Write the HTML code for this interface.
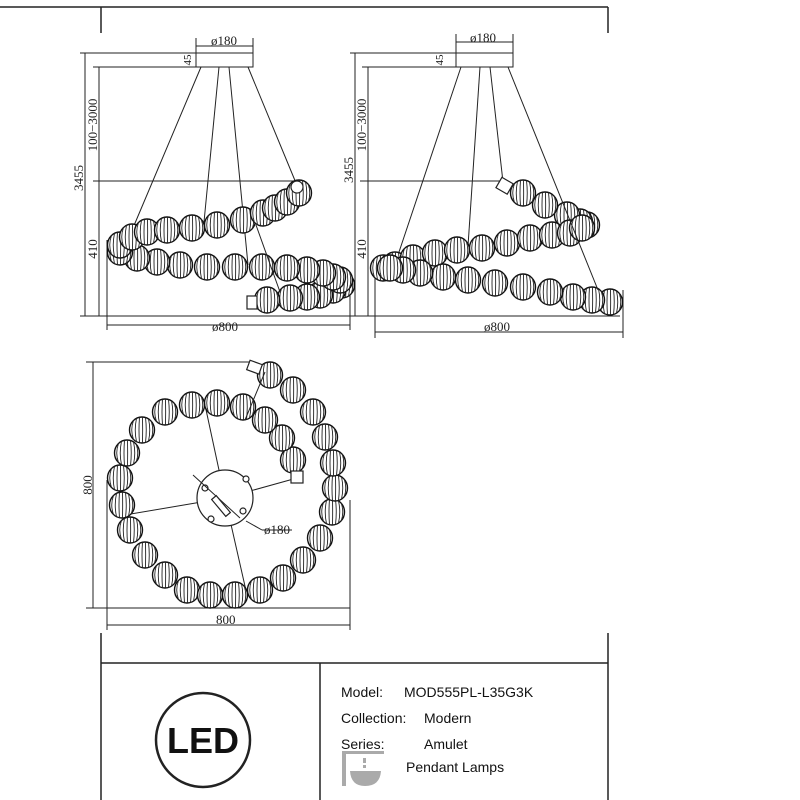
<!DOCTYPE html>
<html><head><meta charset="utf-8"><style>
html,body{margin:0;padding:0;background:#fff;}
svg{display:block}
text{font-family:"Liberation Serif",serif;fill:#222}
.s{font-family:"Liberation Sans",sans-serif;fill:#111}
</style></head><body>
<svg width="800" height="800" viewBox="0 0 800 800" xmlns="http://www.w3.org/2000/svg" xmlns:xlink="http://www.w3.org/1999/xlink">
<defs>
<g id="b">
<ellipse cx="0" cy="0" rx="12.5" ry="13" fill="#fff" stroke="#111" stroke-width="1.4"/>
<g stroke="#222" stroke-width="0.9" fill="none">
<path d="M-8.5 -9.5 Q-12 0 -8.5 9.5"/>
<path d="M-5.5 -11.7 Q-8 0 -5.5 11.7"/>
<path d="M-2.5 -12.7 Q-3.5 0 -2.5 12.7"/>
<path d="M0.5 -13 Q0.8 0 0.5 13"/>
<path d="M3.5 -12.5 Q5 0 3.5 12.5"/>
<path d="M6.5 -11.2 Q9 0 6.5 11.2"/>
<path d="M9.3 -8.7 Q12.2 0 9.3 8.7"/>
</g>
</g>
</defs>
<g stroke="#222" stroke-width="1" fill="none">
<line x1="0" y1="7" x2="608" y2="7" stroke-width="1.5"/>
<line x1="101" y1="7" x2="101" y2="33" stroke-width="1.5"/>
<line x1="608" y1="7" x2="608" y2="33" stroke-width="1.5"/>
<rect x="196" y="53" width="57" height="14"/>
<line x1="196" y1="38" x2="196" y2="53"/><line x1="253" y1="38" x2="253" y2="53"/>
<line x1="196" y1="46" x2="253" y2="46"/>
<line x1="80" y1="53" x2="196" y2="53"/><line x1="93" y1="67" x2="196" y2="67"/>
<line x1="85" y1="53" x2="85" y2="316"/>
<line x1="99" y1="67" x2="99" y2="316"/>
<line x1="93" y1="181" x2="298" y2="181"/>
<line x1="80" y1="316" x2="350" y2="316"/>
<line x1="107" y1="240" x2="107" y2="330"/><line x1="350" y1="280" x2="350" y2="330"/>
<line x1="107" y1="325" x2="350" y2="325"/>
<rect x="456" y="53" width="57" height="14"/>
<line x1="456" y1="34" x2="456" y2="53"/><line x1="513" y1="34" x2="513" y2="53"/>
<line x1="456" y1="42" x2="513" y2="42"/>
<line x1="350" y1="53" x2="456" y2="53"/><line x1="362" y1="67" x2="456" y2="67"/>
<line x1="355" y1="53" x2="355" y2="316"/>
<line x1="368" y1="67" x2="368" y2="316"/>
<line x1="360" y1="181" x2="505" y2="181"/>
<line x1="350" y1="316" x2="620" y2="316"/>
<line x1="375" y1="260" x2="375" y2="338"/><line x1="623" y1="290" x2="623" y2="338"/>
<line x1="375" y1="332" x2="623" y2="332"/>
<line x1="93" y1="362" x2="93" y2="608"/>
<line x1="86" y1="362" x2="255" y2="362"/>
<line x1="86" y1="608" x2="350" y2="608"/>
<line x1="107" y1="480" x2="107" y2="630"/><line x1="350" y1="500" x2="350" y2="630"/>
<line x1="107" y1="625" x2="350" y2="625"/>
<line x1="201" y1="67" x2="130" y2="235"/>
<line x1="219" y1="67" x2="204" y2="222"/>
<line x1="229" y1="67" x2="248" y2="265"/>
<line x1="248" y1="67" x2="296" y2="183"/>
<line x1="461" y1="67" x2="398" y2="255"/>
<line x1="480" y1="67" x2="468" y2="246"/>
<line x1="490" y1="67" x2="503" y2="182"/>
<line x1="225" y1="498" x2="205" y2="405"/>
<line x1="225" y1="498" x2="297" y2="478"/>
<line x1="225" y1="498" x2="125" y2="515"/>
<line x1="225" y1="498" x2="247" y2="595"/>
</g>
<g>
<use xlink:href="#b" href="#b" x="342" y="285"/><use xlink:href="#b" href="#b" x="333" y="290"/><use xlink:href="#b" href="#b" x="320" y="295"/><use xlink:href="#b" href="#b" x="307" y="297"/><use xlink:href="#b" href="#b" x="290" y="298"/><use xlink:href="#b" href="#b" x="267" y="300"/>
<use xlink:href="#b" href="#b" x="340" y="280"/><use xlink:href="#b" href="#b" x="333" y="277"/><use xlink:href="#b" href="#b" x="323" y="273"/><use xlink:href="#b" href="#b" x="307" y="270"/><use xlink:href="#b" href="#b" x="287" y="268"/><use xlink:href="#b" href="#b" x="262" y="267"/><use xlink:href="#b" href="#b" x="235" y="267"/><use xlink:href="#b" href="#b" x="207" y="267"/><use xlink:href="#b" href="#b" x="180" y="265"/><use xlink:href="#b" href="#b" x="157" y="262"/><use xlink:href="#b" href="#b" x="137" y="258"/><use xlink:href="#b" href="#b" x="120" y="252"/>
<use xlink:href="#b" href="#b" x="120" y="245"/><use xlink:href="#b" href="#b" x="132" y="237"/><use xlink:href="#b" href="#b" x="147" y="232"/><use xlink:href="#b" href="#b" x="167" y="230"/><use xlink:href="#b" href="#b" x="192" y="228"/><use xlink:href="#b" href="#b" x="217" y="225"/><use xlink:href="#b" href="#b" x="243" y="220"/><use xlink:href="#b" href="#b" x="263" y="213"/><use xlink:href="#b" href="#b" x="275" y="208"/><use xlink:href="#b" href="#b" x="287" y="202"/><use xlink:href="#b" href="#b" x="299" y="193"/>
</g>
<g>
<use xlink:href="#b" href="#b" x="587" y="225"/><use xlink:href="#b" href="#b" x="580" y="222"/><use xlink:href="#b" href="#b" x="567" y="215"/><use xlink:href="#b" href="#b" x="545" y="205"/><use xlink:href="#b" href="#b" x="523" y="193"/>
<use xlink:href="#b" href="#b" x="383" y="268"/><use xlink:href="#b" href="#b" x="395" y="265"/><use xlink:href="#b" href="#b" x="413" y="258"/><use xlink:href="#b" href="#b" x="435" y="253"/><use xlink:href="#b" href="#b" x="457" y="250"/><use xlink:href="#b" href="#b" x="482" y="248"/><use xlink:href="#b" href="#b" x="507" y="243"/><use xlink:href="#b" href="#b" x="530" y="238"/><use xlink:href="#b" href="#b" x="552" y="235"/><use xlink:href="#b" href="#b" x="570" y="233"/><use xlink:href="#b" href="#b" x="582" y="228"/>
<use xlink:href="#b" href="#b" x="610" y="302"/><use xlink:href="#b" href="#b" x="592" y="300"/><use xlink:href="#b" href="#b" x="573" y="297"/><use xlink:href="#b" href="#b" x="550" y="292"/><use xlink:href="#b" href="#b" x="523" y="287"/><use xlink:href="#b" href="#b" x="495" y="283"/><use xlink:href="#b" href="#b" x="468" y="280"/><use xlink:href="#b" href="#b" x="443" y="277"/><use xlink:href="#b" href="#b" x="420" y="273"/><use xlink:href="#b" href="#b" x="403" y="270"/><use xlink:href="#b" href="#b" x="390" y="268"/>
</g>
<g>
<use xlink:href="#b" href="#b" x="293" y="460"/><use xlink:href="#b" href="#b" x="282" y="438"/><use xlink:href="#b" href="#b" x="265" y="420"/><use xlink:href="#b" href="#b" x="243" y="407"/><use xlink:href="#b" href="#b" x="217" y="403"/><use xlink:href="#b" href="#b" x="192" y="405"/><use xlink:href="#b" href="#b" x="165" y="412"/><use xlink:href="#b" href="#b" x="142" y="430"/><use xlink:href="#b" href="#b" x="127" y="453"/><use xlink:href="#b" href="#b" x="120" y="478"/><use xlink:href="#b" href="#b" x="122" y="505"/><use xlink:href="#b" href="#b" x="130" y="530"/><use xlink:href="#b" href="#b" x="145" y="555"/><use xlink:href="#b" href="#b" x="165" y="575"/><use xlink:href="#b" href="#b" x="187" y="590"/><use xlink:href="#b" href="#b" x="210" y="595"/><use xlink:href="#b" href="#b" x="235" y="595"/><use xlink:href="#b" href="#b" x="260" y="590"/><use xlink:href="#b" href="#b" x="283" y="578"/><use xlink:href="#b" href="#b" x="303" y="560"/><use xlink:href="#b" href="#b" x="320" y="538"/><use xlink:href="#b" href="#b" x="332" y="512"/><use xlink:href="#b" href="#b" x="335" y="488"/><use xlink:href="#b" href="#b" x="333" y="463"/><use xlink:href="#b" href="#b" x="325" y="437"/><use xlink:href="#b" href="#b" x="313" y="412"/><use xlink:href="#b" href="#b" x="293" y="390"/><use xlink:href="#b" href="#b" x="270" y="375"/>
</g>
<g stroke="#222" fill="none" stroke-width="1">
<line x1="256" y1="225" x2="280" y2="292"/>
<line x1="508" y1="67" x2="598" y2="290"/>
<line x1="245" y1="420" x2="265" y2="372"/>
</g>
<g stroke="#222" fill="#fff" stroke-width="1.2">
<circle cx="225" cy="498" r="28"/>
<circle cx="205" cy="488" r="3"/><circle cx="246" cy="479" r="3"/><circle cx="243" cy="511" r="3"/><circle cx="211" cy="519" r="3"/>
<line x1="193" y1="475" x2="240" y2="518" stroke-width="1"/>
<rect x="218" y="495" width="6" height="22" transform="rotate(-40 221 506)"/>
<line x1="246" y1="521" x2="262" y2="530" stroke-width="1"/>
<line x1="262" y1="530" x2="292" y2="530" stroke-width="1"/>
<rect x="291" y="471" width="12" height="12"/>
<rect x="247" y="296" width="10" height="13"/>
<circle cx="297" cy="187" r="6"/>
<rect x="498" y="180" width="13" height="12" transform="rotate(30 505 186)"/>
<rect x="248" y="362" width="13" height="10" transform="rotate(20 254 367)"/>
</g>
<g font-size="13">
<text x="211" y="45">ø180</text>
<text x="470" y="42">ø180</text>
<text x="212" y="331">ø800</text>
<text x="484" y="331">ø800</text>
<text x="264" y="534">ø180</text>
<text x="216" y="624">800</text>
<text transform="translate(97,125) rotate(-90)" text-anchor="middle">100−3000</text>
<text transform="translate(97,249) rotate(-90)" text-anchor="middle">410</text>
<text transform="translate(83,178) rotate(-90)" text-anchor="middle">3455</text>
<text transform="translate(191,60) rotate(-90)" text-anchor="middle" font-size="11">45</text>
<text transform="translate(366,125) rotate(-90)" text-anchor="middle">100−3000</text>
<text transform="translate(366,249) rotate(-90)" text-anchor="middle">410</text>
<text transform="translate(353,170) rotate(-90)" text-anchor="middle">3455</text>
<text transform="translate(443,60) rotate(-90)" text-anchor="middle" font-size="11">45</text>
<text transform="translate(92,485) rotate(-90)" text-anchor="middle">800</text>
</g>
<g stroke="#222" stroke-width="1.5" fill="none">
<line x1="101" y1="633" x2="101" y2="800"/>
<line x1="608" y1="633" x2="608" y2="800"/>
<line x1="101" y1="663" x2="608" y2="663"/>
<line x1="320" y1="663" x2="320" y2="800"/>
<circle cx="203" cy="740" r="47" stroke-width="2.5"/>
</g>
<text class="s" x="203" y="753" text-anchor="middle" font-size="36" font-weight="bold">LED</text>
<g font-size="14">
<text class="s" x="341" y="697">Model:</text>
<text class="s" x="404" y="697">MOD555PL-L35G3K</text>
<text class="s" x="341" y="723">Collection:</text>
<text class="s" x="424" y="723">Modern</text>
<text class="s" x="341" y="749">Series:</text>
<text class="s" x="424" y="749">Amulet</text>
<text class="s" x="406" y="772">Pendant Lamps</text>
</g>
<g fill="#aaa">
<rect x="342" y="751" width="4" height="35"/>
<rect x="342" y="751" width="42" height="3"/>
<rect x="363" y="758" width="3" height="5"/>
<rect x="363" y="765" width="3" height="3"/>
<path d="M350 771 H381 Q380 786 365 786 Q351 786 350 771 Z"/>
</g>
</svg>
</body></html>
